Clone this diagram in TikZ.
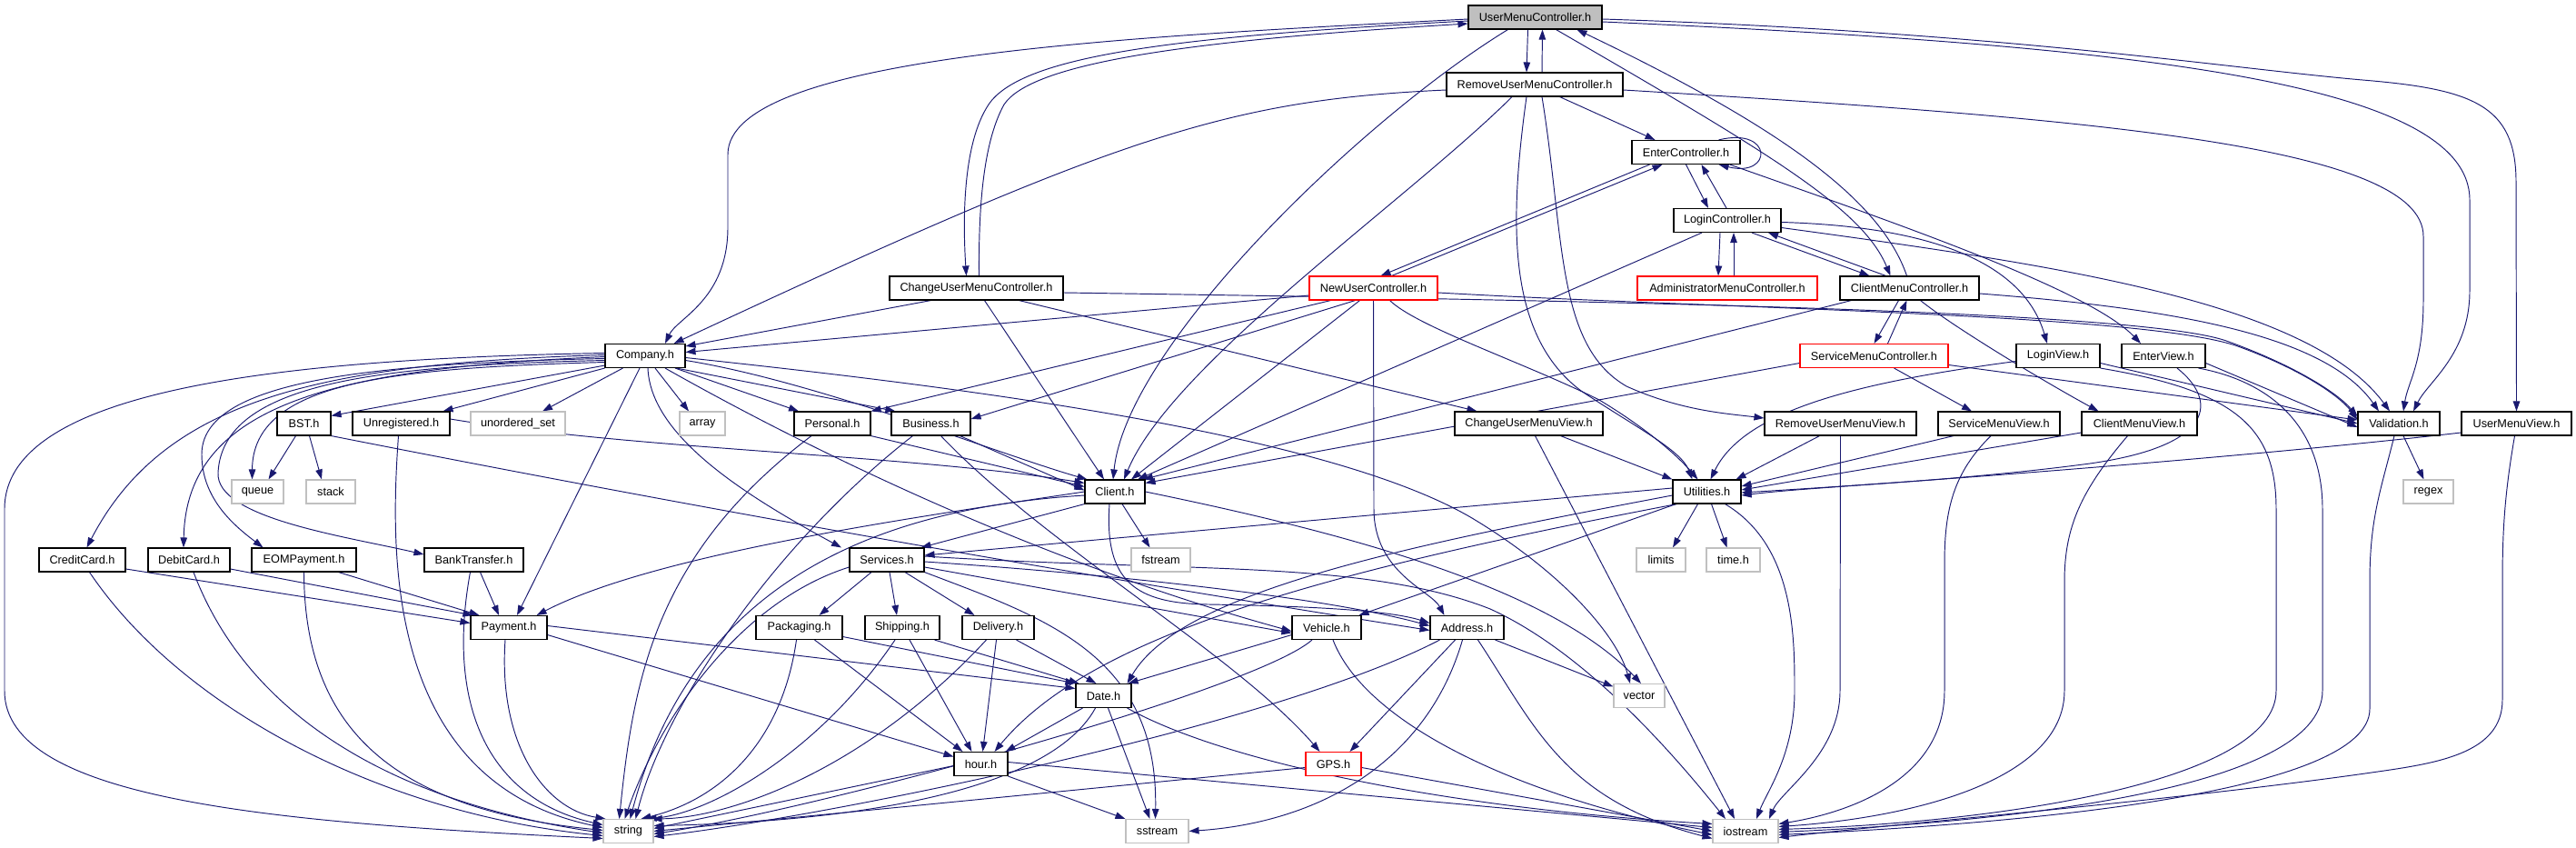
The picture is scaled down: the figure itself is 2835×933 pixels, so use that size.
\documentclass[tikz,border=0pt]{standalone}
\usepackage{fontspec}
\setmainfont{Liberation Sans}
\usetikzlibrary{arrows.meta}
\definecolor{edgec}{HTML}{191970}
\definecolor{sysc}{HTML}{C0C0C0}
\definecolor{redc}{HTML}{FF0000}
\definecolor{grayfill}{HTML}{BFBFBF}
\pgfdeclarelayer{bgzero}
\pgfdeclarelayer{edges}
\pgfsetlayers{bgzero,edges,main}
\begin{document}
\begin{tikzpicture}[x=1pt,y=-1pt,
  hbox/.style={draw=black,line width=1.1pt,fill=white,inner sep=0pt,minimum height=26pt,
     font=\fontsize{12.7}{15}\selectfont},
  sysbox/.style={hbox,draw=sysc},
  redbox/.style={hbox,draw=redc},
  edge/.style={draw=edgec,line width=0.95pt,-{Triangle[length=11pt,width=7.5pt]}},
]
\begin{pgfonlayer}{bgzero}
\useasboundingbox[fill=white] (0,0) rectangle (2835,933);
\end{pgfonlayer}

% ---------------- nodes ----------------
\node[hbox,fill=grayfill,minimum width=147pt] (umc) at (1689.5,19) {UserMenuController.h};
\node[hbox,minimum width=194pt] (rumc) at (1689,93) {RemoveUserMenuController.h};
\node[hbox,minimum width=191pt] (cumc) at (1074.5,317) {ChangeUserMenuController.h};
\node[hbox,minimum width=119pt] (enterc) at (1855.5,167.5) {EnterController.h};
\node[hbox,minimum width=118pt] (loginc) at (1901,242.5) {LoginController.h};
\node[redbox,minimum width=141pt] (nuc) at (1511.5,317) {NewUserController.h};
\node[redbox,minimum width=198pt] (adminc) at (1901,317) {AdministratorMenuController.h};
\node[hbox,minimum width=153pt] (cmc) at (2101.5,317) {ClientMenuController.h};
\node[redbox,minimum width=163pt] (smc) at (2062.5,391.5) {ServiceMenuController.h};
\node[hbox,minimum width=92pt] (loginv) at (2265,391.5) {LoginView.h};
\node[hbox,minimum width=92pt] (enterv) at (2381,391.5) {EnterView.h};
\node[hbox,minimum width=88pt] (company) at (710,391.5) {Company.h};
\node[hbox,minimum width=59pt] (bst) at (334.5,466) {BST.h};
\node[hbox,minimum width=107pt] (unreg) at (441.5,466) {Unregistered.h};
\node[sysbox,minimum width=104pt] (uset) at (570,466) {unordered\_set};
\node[sysbox,minimum width=50pt] (array) at (773,466) {array};
\node[hbox,minimum width=84pt] (personal) at (916,466) {Personal.h};
\node[hbox,minimum width=87pt] (business) at (1024.5,466) {Business.h};
\node[hbox,minimum width=163pt] (cumv) at (1682.5,466) {ChangeUserMenuView.h};
\node[hbox,minimum width=167pt] (rumv) at (2025.5,466) {RemoveUserMenuView.h};
\node[hbox,minimum width=134pt] (smv) at (2200,466) {ServiceMenuView.h};
\node[hbox,minimum width=127pt] (cmv) at (2354.5,466) {ClientMenuView.h};
\node[hbox,minimum width=90pt] (valid) at (2640,466) {Validation.h};
\node[hbox,minimum width=121pt] (umv) at (2769.5,466) {UserMenuView.h};
\node[sysbox,minimum width=57pt] (queue) at (283.5,541) {queue};
\node[sysbox,minimum width=54pt] (stack) at (364,541) {stack};
\node[hbox,minimum width=66pt] (client) at (1227,541) {Client.h};
\node[hbox,minimum width=75pt] (util) at (1878.5,541) {Utilities.h};
\node[sysbox,minimum width=55pt] (regex) at (2672.5,541) {regex};
\node[hbox,minimum width=95pt] (credit) at (90.5,616) {CreditCard.h};
\node[hbox,minimum width=90pt] (debit) at (208,616) {DebitCard.h};
\node[hbox,minimum width=115pt] (eom) at (334.5,616) {EOMPayment.h};
\node[hbox,minimum width=109pt] (bank) at (521.5,616) {BankTransfer.h};
\node[hbox,minimum width=82pt] (services) at (976,616) {Services.h};
\node[sysbox,minimum width=65pt] (fstream) at (1277.5,616) {fstream};
\node[sysbox,minimum width=54pt] (limits) at (1828,616) {limits};
\node[sysbox,minimum width=59pt] (timeh) at (1907.5,616) {time.h};
\node[hbox,minimum width=84pt] (payment) at (560,690.5) {Payment.h};
\node[hbox,minimum width=95pt] (pack) at (879.5,690.5) {Packaging.h};
\node[hbox,minimum width=82pt] (ship) at (993,690.5) {Shipping.h};
\node[hbox,minimum width=79pt] (deliv) at (1098.5,690.5) {Delivery.h};
\node[hbox,minimum width=76pt] (vehicle) at (1460,690.5) {Vehicle.h};
\node[hbox,minimum width=81pt] (address) at (1614.5,690.5) {Address.h};
\node[hbox,minimum width=61pt] (date) at (1214.5,765.5) {Date.h};
\node[sysbox,minimum width=56pt] (vector) at (1804,765.5) {vector};
\node[hbox,minimum width=59pt] (hour) at (1079.5,840.5) {hour.h};
\node[redbox,minimum width=61pt] (gps) at (1467.5,840.5) {GPS.h};
\node[sysbox,minimum width=55pt] (string) at (691.5,914.5) {string};
\node[sysbox,minimum width=69pt] (sstream) at (1273.5,914.5) {sstream};
\node[sysbox,minimum width=72pt] (iostream) at (1921,914.5) {iostream};

\begin{pgfonlayer}{edges}
% ---------------- UserMenuController ----------------
\draw[edge] ([yshift=-2]umc.west) .. controls (1250,40) and (801,60) .. (801,170) -- (801,250) .. controls (801,330) and (745,350) .. ([xshift=22]company.north);
\draw[edge] ([yshift=-4]umc.west) .. controls (1300,40) and (1125,60) .. (1088,115) .. controls (1058,160) and (1060,250) .. ([xshift=-11]cumc.north);
\draw[edge] ([xshift=3]cumc.north) .. controls (1077,240) and (1080,160) .. (1105,115) .. controls (1135,70) and (1300,45) .. ([yshift=-7]umc.west);
\draw[edge] ([xshift=-8]umc.south) -- ([xshift=-9]rumc.north);
\draw[edge] ([xshift=8]rumc.north) -- ([xshift=8]umc.south);
\draw[edge] ([xshift=-30]umc.south) .. controls (1500,130) and (1240,380) .. ([xshift=-2]client.north);
\draw[edge] ([xshift=23]umc.south) .. controls (1950,170) and (2050,230) .. ([xshift=-21]cmc.north);
\draw[edge] ([xshift=-3]cmc.north) .. controls (2070,220) and (1960,140) .. ([xshift=46]umc.south);
\draw[edge] ([yshift=-5]umc.east) .. controls (2350,50) and (2718,90) .. (2718,220) -- (2718,320) .. controls (2718,390) and (2672,420) .. ([xshift=16]valid.north);
\draw[edge] ([yshift=-2]umc.east) .. controls (2200,35) and (2450,75) .. (2600,88) .. controls (2720,98) and (2769,115) .. (2769,200) -- (umv.north);

% ---------------- RemoveUserMenuController ----------------
\draw[edge] ([yshift=-6]rumc.west) .. controls (1350,110) and (1230,150) .. ([xshift=-13]company.north east);
\draw[edge] ([xshift=-70]rumc.south east) -- ([xshift=-34]enterc.north);
\draw[edge] ([xshift=-25]rumc.south) .. controls (1550,220) and (1290,400) .. ([xshift=10]client.north);
\draw[edge] ([xshift=-9]rumc.south) .. controls (1660,250) and (1660,370) .. (1740,430) .. controls (1800,470) and (1850,495) .. ([xshift=-16]util.north);
\draw[edge] ([xshift=8]rumc.south) .. controls (1722,260) and (1712,380) .. (1790,425) .. controls (1850,452) and (1900,455) .. ([yshift=6]rumv.west);
\draw[edge] ([yshift=-6]rumc.east) .. controls (2300,130) and (2667,160) .. (2667,260) -- (2667,330) .. controls (2667,400) and (2650,420) .. ([xshift=5]valid.north);

% ---------------- ChangeUserMenuController ----------------
\draw[edge] ([xshift=-50]cumc.south) -- ([yshift=-3]company.north east);
\draw[edge] ([xshift=9]cumc.south) -- ([xshift=-12]client.north);
\draw[edge] ([xshift=47]cumc.south) -- ([xshift=-57]cumv.north);
\draw[edge] ([yshift=-5]cumc.east) .. controls (1700,330) and (2350,340) .. (2450,375) .. controls (2520,400) and (2570,430) .. ([yshift=8]valid.west);

% ---------------- NewUserController ----------------
\draw[edge] ([yshift=-8]nuc.west) -- ([yshift=4]company.east);
\draw[edge] ([xshift=20]nuc.north) -- ([xshift=-26]enterc.south);
\draw[edge] ([xshift=-40]enterc.south) -- ([xshift=8]nuc.north);
\draw[edge] ([xshift=-47]nuc.south) -- (personal.north east);
\draw[edge] ([xshift=-20]nuc.south) -- ([yshift=5]business.east);
\draw[edge] ([xshift=-15]nuc.south) -- ([xshift=18]client.north);
\draw[edge] (nuc.south) -- (1512,560) .. controls (1512,630) and (1575,650) .. ([xshift=-25]address.north);
\draw[edge] ([xshift=18]nuc.south) .. controls (1560,360) and (1680,400) .. (1760,440) .. controls (1810,470) and (1845,500) .. ([xshift=-10]util.north);
\draw[edge] ([yshift=-5]nuc.east) .. controls (1900,340) and (2350,345) .. (2460,380) .. controls (2530,405) and (2575,435) .. ([yshift=4]valid.west);

% ---------------- EnterController ----------------
\draw[edge] ([xshift=-24]enterc.north east) .. controls +(60,-15) and +(60,15) .. ([xshift=-24]enterc.south east);
\draw[edge] (enterc.south) -- ([xshift=-21]loginc.north);
\draw[edge] ([xshift=-1]loginc.north) -- ([xshift=17]enterc.south);
\draw[edge] ([xshift=-12]enterc.south east) .. controls (2100,250) and (2300,320) .. ([xshift=-25]enterv.north);

% ---------------- LoginController ----------------
\draw[edge] ([xshift=-8]loginc.south) -- ([xshift=-10]adminc.north);
\draw[edge] ([xshift=7]adminc.north) -- ([xshift=7]loginc.south);
\draw[edge] ([xshift=27]loginc.south) -- ([xshift=-44]cmc.north);
\draw[edge] ([xshift=-26]cmc.north) -- ([xshift=45]loginc.south);
\draw[edge] ([xshift=-28]loginc.south) -- ([xshift=25]client.north);
\draw[edge] ([yshift=-2]loginc.east) .. controls (2150,250) and (2230,300) .. ([xshift=-12]loginv.north);
\draw[edge] ([yshift=-8]loginc.east) .. controls (2250,290) and (2540,330) .. ([xshift=-10]valid.north);

% ---------------- ClientMenuController / ServiceMenuController ----------------
\draw[edge] ([xshift=-12]cmc.south) -- (smc.north);
\draw[edge] ([xshift=15]smc.north) -- ([xshift=-3]cmc.south);
\draw[edge] ([xshift=-64]cmc.south) -- ([xshift=31]client.north);
\draw[edge] ([xshift=12]cmc.south) .. controls (2150,360) and (2250,420) .. ([xshift=-45]cmv.north);
\draw[edge] ([yshift=-6]cmc.east) .. controls (2400,340) and (2560,370) .. ([xshift=-22]valid.north);
\draw[edge] ([yshift=-8]smc.west) -- ([yshift=-4]client.north east);
\draw[edge] ([xshift=22]smc.south) -- ([xshift=-30]smv.north);
\draw[edge] ([yshift=-10]smc.east) -- ([yshift=4]valid.west);

% ---------------- Views ----------------
\draw[edge] ([yshift=-6]loginv.west) .. controls (2050,420) and (1920,450) .. ([xshift=4]util.north);
\draw[edge] ([yshift=-8]loginv.east) -- (valid.west);
\draw[edge] (loginv.south east) .. controls (2460,430) and (2505,470) .. (2505,560) -- (2505,760) .. controls (2505,860) and (2200,905) .. ([yshift=2]iostream.east);
\draw[edge] ([yshift=-8]enterv.east) -- ([yshift=-4]valid.west);
\draw[edge] ([xshift=15]enterv.south) .. controls (2440,440) and (2440,490) .. (2300,510) .. controls (2150,530) and (2000,535) .. ([yshift=-4]util.east);
\draw[edge] ([xshift=-8]enterv.south east) .. controls (2500,420) and (2556,470) .. (2556,560) -- (2556,760) .. controls (2556,870) and (2200,905) .. ([yshift=-1]iostream.east);
\draw[edge] ([xshift=-50]smv.south) -- ([yshift=6]util.east);
\draw[edge] ([xshift=-9]smv.south) .. controls (2150,520) and (2140,560) .. (2140,620) -- (2140,760) .. controls (2140,860) and (2030,895) .. ([yshift=8]iostream.east);
\draw[edge] ([yshift=-10]cmv.west) -- ([yshift=2]util.east);
\draw[edge] ([xshift=-13]cmv.south) .. controls (2290,540) and (2272,580) .. (2272,640) -- (2272,760) .. controls (2272,860) and (2100,900) .. ([yshift=5]iostream.east);
\draw[edge] ([yshift=-10]umv.west) .. controls (2500,500) and (2150,528) .. ([yshift=-1]util.east);
\draw[edge] ([xshift=-2]umv.south) .. controls (2757,540) and (2754,580) .. (2754,640) -- (2754,770) .. controls (2754,830) and (2680,840) .. (2610,850) .. controls (2400,880) and (2100,905) .. ([yshift=-7]iostream.east);
\draw[edge] ([xshift=-5]valid.south) .. controls (2620,540) and (2608,570) .. (2608,640) -- (2608,780) .. controls (2608,870) and (2250,905) .. ([yshift=-4]iostream.east);
\draw[edge] ([xshift=5]valid.south) -- ([xshift=-5]regex.north);
\draw[edge] ([xshift=-23]rumv.south) -- ([xshift=-6]util.north east);
\draw[edge] (rumv.south) -- (2025,760) .. controls (2025,830) and (1960,870) .. ([xshift=26]iostream.north);
\draw[edge] ([xshift=35]cumv.south) -- (util.north west);
\draw[edge] ([xshift=7]cumv.south) -- ([xshift=-12]iostream.north);

% ---------------- Utilities ----------------
\draw[edge] ([yshift=4]util.west) -- ([yshift=5]services.east);
\draw[edge] ([yshift=-4]util.west) .. controls (1550,600) and (1300,650) .. ([xshift=-5]date.north east);
\draw[edge] ([xshift=5]util.south west) .. controls (1450,630) and (1200,700) .. ([xshift=15]hour.north);
\draw[edge] ([xshift=-34]util.south) -- ([xshift=-3]vehicle.north east);
\draw[edge] ([xshift=-10]util.south) -- ([xshift=13]limits.north);
\draw[edge] ([xshift=5]util.south) -- ([xshift=-7]timeh.north);
\draw[edge] ([xshift=20]util.south) .. controls (1975,600) and (1975,700) .. (1975,760) .. controls (1975,830) and (1945,870) .. ([xshift=12]iostream.north);

% ---------------- Company ----------------
\draw[edge] ([yshift=3]company.west) .. controls (300,395) and (5,430) .. (5,560) -- (5,760) .. controls (5,880) and (300,905) .. ([yshift=-8]string.west);
\draw[edge] ([yshift=1]company.west) .. controls (350,400) and (180,440) .. ([xshift=5]credit.north);
\draw[edge] ([yshift=-1]company.west) .. controls (380,405) and (205,440) .. ([xshift=-6]debit.north);
\draw[edge] ([yshift=-3]company.west) .. controls (400,400) and (222,420) .. (222,500) .. controls (222,550) and (260,580) .. ([xshift=-45]eom.north);
\draw[edge] ([yshift=-5]company.west) .. controls (420,402) and (245,420) .. (240,520) .. controls (237,570) and (380,590) .. ([yshift=6]bank.west);
\draw[edge] ([yshift=-7]company.west) .. controls (430,405) and (278,420) .. ([xshift=-6]queue.north);
\draw[edge] ([yshift=3]company.south west) -- ([yshift=-5]bst.north east);
\draw[edge] (company.south west) -- ([xshift=-8]unreg.north east);
\draw[edge] ([xshift=20]company.south west) -- ([xshift=27]uset.north);
\draw[edge] ([xshift=-6]company.south) -- ([xshift=9]payment.north);
\draw[edge] ([xshift=3]company.south) .. controls (716,480) and (820,545) .. ([xshift=-50]services.north);
\draw[edge] ([xshift=11]company.south) -- ([xshift=-15]array.north);
\draw[edge] ([xshift=22]company.south) .. controls (900,500) and (1150,620) .. ([yshift=-4]vehicle.west);
\draw[edge] ([xshift=33]company.south) -- ([xshift=-37]personal.north);
\draw[edge] ([xshift=-10]company.south east) -- ([xshift=5]business.north west);
\draw[edge] ([yshift=-5]company.east) .. controls (900,420) and (1100,500) .. ([xshift=3]client.north west);
\draw[edge] ([yshift=-2]company.east) .. controls (1000,420) and (1450,470) .. (1620,570) .. controls (1720,630) and (1780,700) .. ([xshift=-10]vector.north);

% ---------------- BST / Unregistered / Personal / Business ----------------
\draw[edge] ([xshift=-9]bst.south) -- ([xshift=12]queue.north);
\draw[edge] ([xshift=6]bst.south) -- ([xshift=-10]stack.north);
\draw[edge] (bst.south east) .. controls (900,585) and (1300,650) .. ([yshift=-3]address.west);
\draw[edge] ([yshift=5]unreg.east) .. controls (700,495) and (1000,500) .. ([yshift=-4]client.north west);
\draw[edge] ([xshift=-3]unreg.south) .. controls (430,600) and (420,860) .. ([yshift=4]string.west);
\draw[edge] (personal.south east) -- ([yshift=-8]client.north west);
\draw[edge] ([xshift=-23]personal.south) .. controls (720,610) and (697,750) .. ([xshift=-10]string.north);
\draw[edge] ([xshift=32]business.south) -- ([yshift=-12]client.north west);
\draw[edge] ([xshift=-20]business.south) .. controls (850,600) and (730,780) .. ([xshift=8]string.north);
\draw[edge] ([xshift=11]business.south) .. controls (1150,600) and (1360,720) .. ([xshift=-15]gps.north);

% ---------------- Client ----------------
\draw[edge] (client.south west) -- ([xshift=-4]services.north east);
\draw[edge] ([xshift=8]client.south) -- ([xshift=-12]fstream.north);
\draw[edge] ([yshift=-4]client.west) .. controls (950,560) and (760,650) .. ([xshift=2]string.north);
\draw[edge] ([yshift=0]client.west) .. controls (1000,570) and (720,610) .. ([xshift=-12]payment.north east);
\draw[edge] ([xshift=-6]client.south) .. controls (1215,640) and (1250,664) .. (1330,665) .. controls (1450,667) and (1530,672) .. ([yshift=5]address.west);
\draw[edge] (client.east) .. controls (1450,580) and (1700,640) .. ([xshift=2]vector.north);

% ---------------- Services ----------------
\draw[edge] ([xshift=-17]services.south) -- ([xshift=22]pack.north);
\draw[edge] ([xshift=3]services.south) -- ([xshift=-6]ship.north);
\draw[edge] ([xshift=20]services.south) -- ([xshift=-26]deliv.north);
\draw[edge] ([yshift=-8]services.west) .. controls (820,660) and (730,780) .. ([xshift=-4]string.north);
\draw[edge] ([yshift=-2]services.east) .. controls (1200,630) and (1450,655) .. ([yshift=2]address.west);
\draw[edge] ([yshift=-8]services.east) -- ([yshift=-6]vehicle.west);
\draw[edge] ([yshift=4]services.east) .. controls (1300,630) and (1500,615) .. (1640,670) .. controls (1750,720) and (1850,840) .. ([xshift=-22]iostream.north);
\draw[edge] (services.south east) .. controls (1150,680) and (1275,720) .. ([xshift=-2]sstream.north);

% ---------------- Payment family ----------------
\draw[edge] ([yshift=-10]credit.east) -- ([yshift=5]payment.west);
\draw[edge] ([yshift=-10]debit.east) -- ([xshift=3]payment.north west);
\draw[edge] ([xshift=-20]eom.south east) -- ([xshift=10]payment.north west);
\draw[edge] ([xshift=7]bank.south) -- ([xshift=-11]payment.north);
\draw[edge] ([xshift=8]credit.south) .. controls (200,780) and (420,895) .. ([yshift=-5]string.west);
\draw[edge] ([xshift=5]debit.south) .. controls (270,780) and (420,880) .. ([yshift=-2]string.west);
\draw[edge] (eom.south) .. controls (335,800) and (430,890) .. ([yshift=1]string.west);
\draw[edge] ([xshift=-4]bank.south) .. controls (490,780) and (540,880) .. ([yshift=7]string.west);
\draw[edge] ([xshift=-4]payment.south) .. controls (548,820) and (600,890) .. ([xshift=3]string.north west);
\draw[edge] ([yshift=2]payment.east) -- ([yshift=8]date.west);
\draw[edge] ([yshift=-8]payment.east) -- ([yshift=8]hour.west);

% ---------------- Packaging / Shipping / Delivery ----------------
\draw[edge] ([yshift=-10]pack.east) -- (date.north west);
\draw[edge] ([xshift=17]pack.south) -- ([xshift=-20]hour.north);
\draw[edge] ([xshift=-3]pack.south) .. controls (860,820) and (790,880) .. ([xshift=14]string.north);
\draw[edge] ([xshift=-6]ship.south east) -- ([xshift=4]date.north west);
\draw[edge] ([xshift=8]ship.south) -- ([xshift=-10]hour.north);
\draw[edge] ([xshift=-8]ship.south) .. controls (900,830) and (780,895) .. ([xshift=20]string.north);
\draw[edge] ([xshift=20]deliv.south) -- ([xshift=-8]date.north);
\draw[edge] ([xshift=-2]deliv.south) -- ([xshift=2]hour.north);
\draw[edge] ([xshift=-13]deliv.south) .. controls (950,850) and (800,900) .. ([xshift=-2]string.north east);

% ---------------- Date / hour ----------------
\draw[edge] ([xshift=-23]date.south) -- ([xshift=-3]hour.north east);
\draw[edge] ([xshift=-9]date.south) .. controls (1150,880) and (900,905) .. ([yshift=6]string.east);
\draw[edge] ([xshift=5]date.south) -- ([xshift=-8]sstream.north);
\draw[edge] ([xshift=-5]date.south east) .. controls (1350,840) and (1600,890) .. ([yshift=8]iostream.west);
\draw[edge] ([yshift=-2]hour.west) -- ([yshift=3]string.east);
\draw[edge] (hour.south east) -- (sstream.north west);
\draw[edge] ([yshift=2]hour.east) -- ([yshift=4]iostream.west);

% ---------------- Vehicle / Address / GPS ----------------
\draw[edge] ([yshift=-8]vehicle.west) -- ([xshift=-4]date.north east);
\draw[edge] ([xshift=-16]vehicle.south) .. controls (1380,760) and (900,890) .. ([yshift=-3]string.east);
\draw[edge] ([xshift=7]vehicle.south) .. controls (1500,790) and (1650,870) .. ([yshift=-4]iostream.west);
\draw[edge] ([xshift=-13]address.south) -- ([xshift=18]gps.north);
\draw[edge] ([xshift=-10]address.south east) -- ([yshift=10]vector.west);
\draw[edge] ([xshift=-30]address.south) .. controls (1400,800) and (900,900) .. ([yshift=-6]string.east);
\draw[edge] ([xshift=-5]address.south) .. controls (1570,840) and (1450,905) .. (sstream.east);
\draw[edge] ([xshift=12]address.south) .. controls (1690,800) and (1720,880) .. ([yshift=-8]iostream.west);
\draw[edge] ([yshift=-4]gps.west) -- (string.east);
\draw[edge] ([yshift=-4]gps.east) -- (iostream.west);
\end{pgfonlayer}

\end{tikzpicture}
\end{document}
